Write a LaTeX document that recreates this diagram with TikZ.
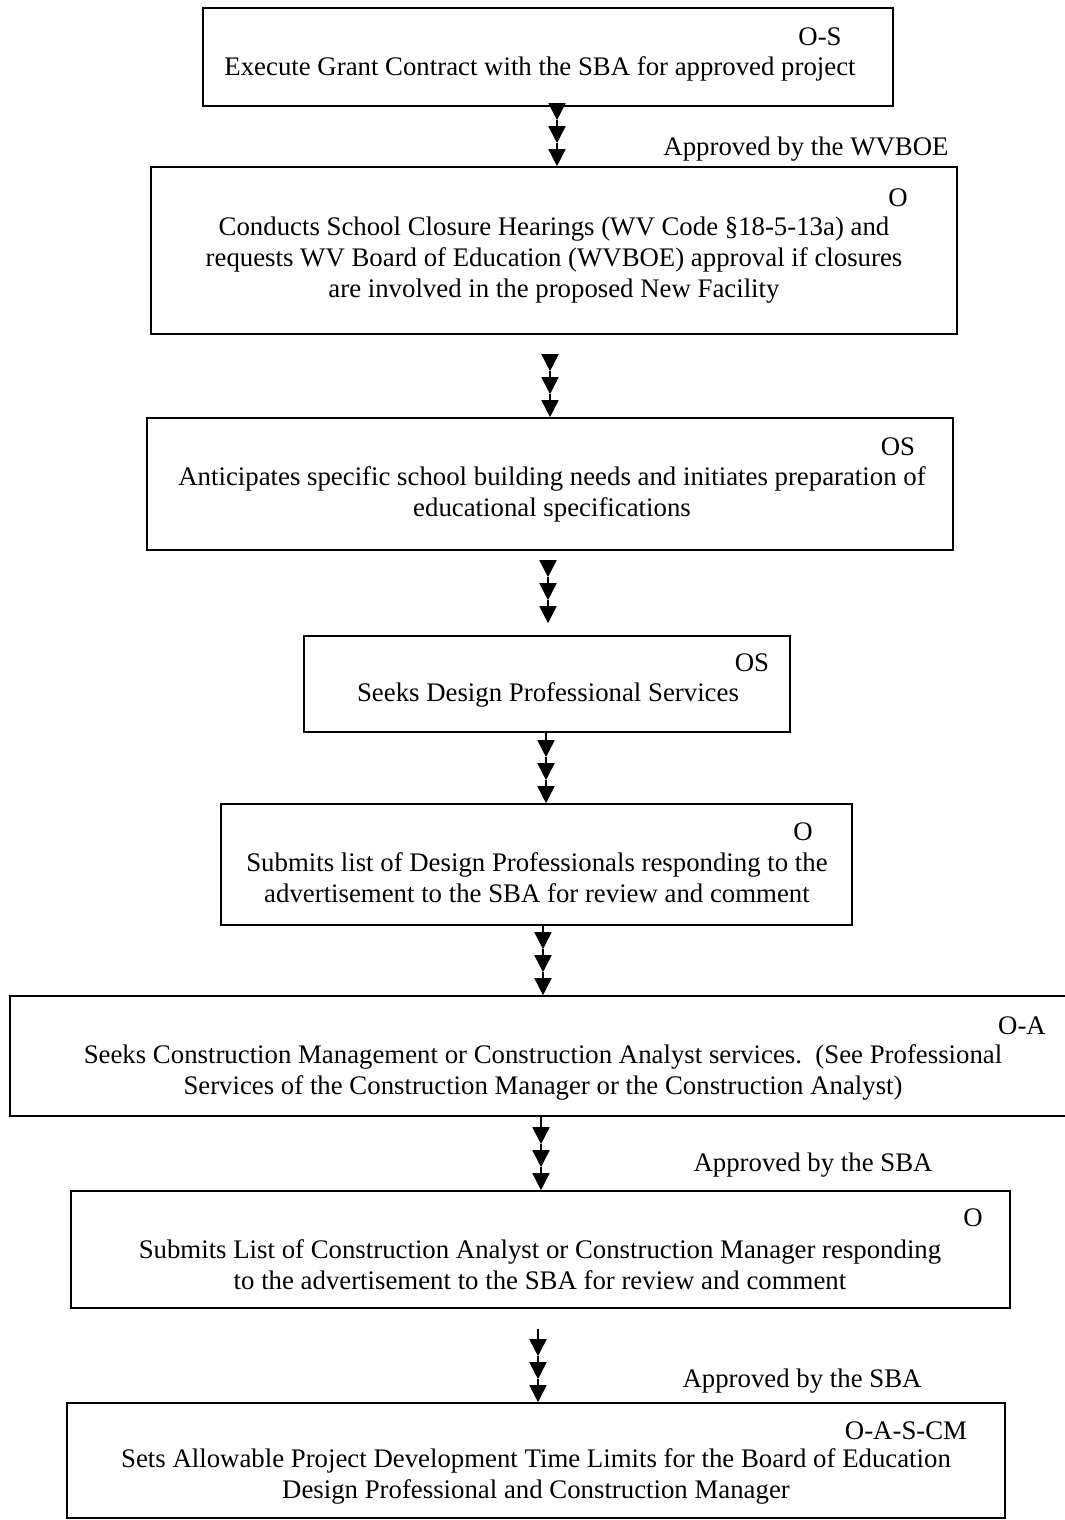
\documentclass[tikz,border=0pt]{standalone}
\usepackage{fontspec}
\setmainfont{Liberation Serif}
\usetikzlibrary{arrows.meta,calc}
\tikzset{
  box/.style={draw, line width=1.6pt, rectangle, inner sep=0pt},
  txt/.style={align=center, inner sep=0pt, font=\fontsize{26.8}{31}\selectfont},
  code/.style={inner sep=0pt, font=\fontsize{26.8}{31}\selectfont},
  note/.style={inner sep=0pt, font=\fontsize{26.8}{31}\selectfont},
  seg/.style={line width=1.6pt, -{Triangle[length=17pt,width=17pt]}}
}
% triple-headed connector: \triarrow{start}{end}
\newcommand{\triarrow}[2]{%
  \draw[seg] (#1) -- ($(#2)+(0,-46)$);
  \draw[seg] ($(#2)+(0,-46)$) -- ($(#2)+(0,-23)$);
  \draw[seg] ($(#2)+(0,-23)$) -- (#2);
}
\begin{document}
\begin{tikzpicture}[x=1pt,y=-1pt]
\useasboundingbox (0,0) rectangle (1065,1520);
\fill[white] (0,0) rectangle (1065,1520);
% boxes
\node[box, minimum width=690pt, minimum height=98pt] (b1) at (548,57) {};
\node[box, minimum width=806pt, minimum height=167pt] (b2) at (554,250.5) {};
\node[box, minimum width=806pt, minimum height=132pt] (b3) at (550,484) {};
\node[box, minimum width=486pt, minimum height=96pt] (b4) at (547,684) {};
\node[box, minimum width=631pt, minimum height=121pt] (b5) at (536.5,864.5) {};
\node[box, minimum width=1070pt, minimum height=120pt] (b6) at (545,1056) {};
\node[box, minimum width=939pt, minimum height=117pt] (b7) at (540.5,1249.5) {};
\node[box, minimum width=938pt, minimum height=115pt] (b8) at (536,1460.5) {};
% codes
\node[code] (c1) at (820,37) {O-S};
\node[code] (c2) at (898,198) {O};
\node[code] (c3) at (898,447) {OS};
\node[code] (c4) at (752,663) {OS};
\node[code] (c5) at (803,832) {O};
\node[code] (c6) at (1022,1026) {O-A};
\node[code] (c7) at (973,1218) {O};
\node[code] (c8) at (906,1431) {O-A-S-CM};
% texts
\node[txt] (t1) at (540,69) {Execute Grant Contract with the SBA for approved project};
\node[txt] (t2) at (554,260) {Conducts School Closure Hearings (WV Code \S18-5-13a) and\\requests WV Board of Education (WVBOE) approval if closures\\are involved in the proposed New Facility};
\node[txt] (t3) at (552,494) {Anticipates specific school building needs and initiates preparation of\\educational specifications};
\node[txt] (t4) at (548,695) {Seeks Design Professional Services};
\node[txt] (t5) at (537,878) {Submits list of Design Professionals responding to the\\advertisement to the SBA for review and comment};
\node[txt] (t6) at (543,1072) {Seeks Construction Management or Construction Analyst services.\ \ (See Professional\\Services of the Construction Manager or the Construction Analyst)};
\node[txt] (t7) at (540,1265) {Submits List of Construction Analyst or Construction Manager responding\\to the advertisement to the SBA for review and comment};
\node[txt] (t8) at (536,1476) {Sets Allowable Project Development Time Limits for the Board of Education\\Design Professional and Construction Manager};
% notes
\node[note] (n1) at (806,149) {Approved by the WVBOE};
\node[note] (n2) at (813,1165) {Approved by the SBA};
\node[note] (n3) at (802,1381) {Approved by the SBA};
% arrow x positions
\coordinate (x1) at (557,0);
\coordinate (x2) at (550,0);
\coordinate (x3) at (548,0);
\coordinate (x4) at (546,0);
\coordinate (x5) at (543,0);
\coordinate (x6) at (541,0);
\coordinate (x7) at (538,0);
\coordinate (s1) at (b1.south -| x1); \coordinate (e1) at (b2.north -| x1);
\coordinate (s2) at ([yshift=-21pt]b2.south -| x2); \coordinate (e2) at (b3.north -| x2);
\coordinate (s3) at ([yshift=-12pt]b3.south -| x3); \coordinate (e3) at ([yshift=12pt]b4.north -| x3);
\coordinate (s4) at (b4.south -| x4); \coordinate (e4) at (b5.north -| x4);
\coordinate (s5) at (b5.south -| x5); \coordinate (e5) at (b6.north -| x5);
\coordinate (s6) at (b6.south -| x6); \coordinate (e6) at (b7.north -| x6);
\coordinate (s7) at ([yshift=-20pt]b7.south -| x7); \coordinate (e7) at (b8.north -| x7);
\triarrow{s1}{e1}
\triarrow{s2}{e2}
\triarrow{s3}{e3}
\triarrow{s4}{e4}
\triarrow{s5}{e5}
\triarrow{s6}{e6}
\triarrow{s7}{e7}
\end{tikzpicture}
\end{document}
